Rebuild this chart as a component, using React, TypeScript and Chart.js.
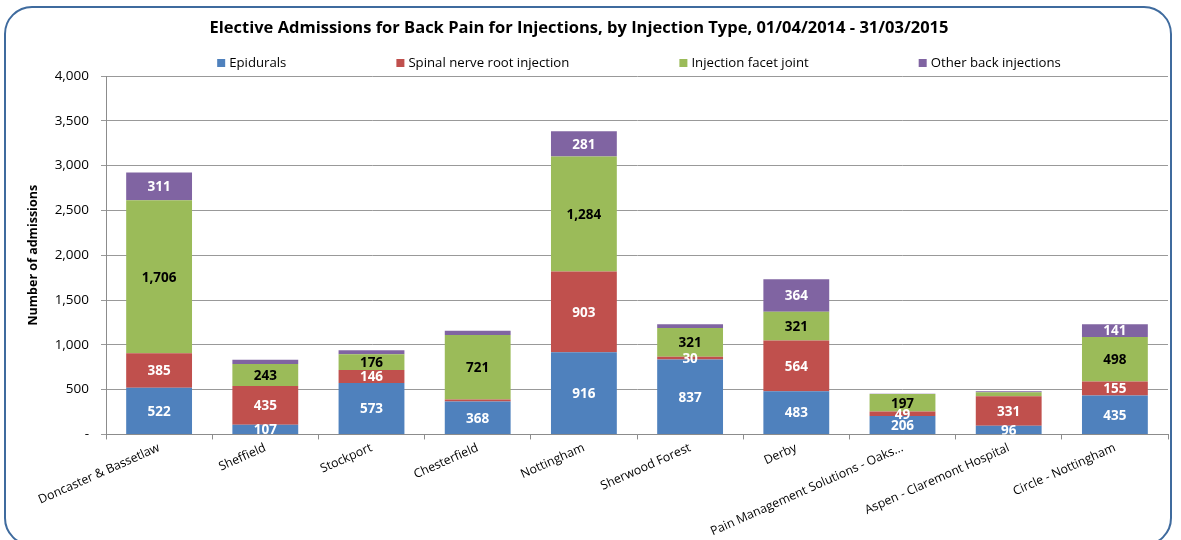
import { useEffect, useRef } from "react";
import { Chart, registerables } from "chart.js";

Chart.register(...registerables);

const categories = [
  "Doncaster & Bassetlaw",
  "Sheffield",
  "Stockport",
  "Chesterfield",
  "Nottingham",
  "Sherwood Forest",
  "Derby",
  "Pain Management Solutions - Oaks...",
  "Aspen - Claremont Hospital",
  "Circle - Nottingham",
];

const seriesNames = [
  "Epidurals",
  "Spinal nerve root injection",
  "Injection facet joint",
  "Other back injections",
];

const epidurals = [522, 107, 573, 368, 916, 837, 483, 206, 96, 435];
const spinalNerveRoot = [385, 435, 146, 22, 903, 30, 564, 49, 331, 155];
const facetJoint = [1706, 243, 176, 721, 1284, 321, 321, 197, 45, 498];
const otherBack = [311, 48, 45, 45, 281, 41, 364, 3, 11, 141];

// which segments carry a value label in the original
const epiduralsLabelled = [true, true, true, true, true, true, true, true, true, true];
const spinalLabelled = [true, true, true, false, true, true, true, true, true, true];
const facetLabelled = [true, true, true, true, true, true, true, true, false, true];
const otherLabelled = [true, false, false, false, true, false, true, false, false, true];

const yMin = 0;
const yMax = 4000;
const yStep = 500;

const seriesColors = ["#4F81BD", "#C0504D", "#9BBB59", "#8064A2"];
const labelColors = ["#FFFFFF", "#FFFFFF", "#000000", "#FFFFFF"];
const labelMasks = [epiduralsLabelled, spinalLabelled, facetLabelled, otherLabelled];

const FONT = "'Open Sans', 'Noto Sans', sans-serif";

const valueLabelPlugin = {
  id: "valueLabels",
  afterDatasetsDraw(chart: any) {
    const ctx = chart.ctx;
    const area = chart.chartArea;
    ctx.save();
    ctx.beginPath();
    ctx.rect(area.left, area.top, area.right - area.left, area.bottom - area.top);
    ctx.clip();
    ctx.font = `bold 13.5px ${FONT}`;
    ctx.textAlign = "center";
    ctx.textBaseline = "middle";
    chart.data.datasets.forEach((ds: any, di: number) => {
      const meta = chart.getDatasetMeta(di);
      const mask = labelMasks[di];
      meta.data.forEach((el: any, i: number) => {
        if (!mask[i]) return;
        const { x, y, base } = el.getProps(["x", "y", "base"], true);
        ctx.fillStyle = labelColors[di];
        ctx.fillText(Number(ds.data[i]).toLocaleString("en-US"), x, (y + base) / 2 + 1);
      });
    });
    ctx.restore();
  },
};

const legendPlugin = {
  id: "customLegend",
  afterDraw(chart: any) {
    const ctx = chart.ctx;
    const area = chart.chartArea;
    ctx.save();
    ctx.font = `13.2px ${FONT}`;
    ctx.textBaseline = "middle";
    ctx.textAlign = "left";
    const box = 8;
    const textGap = 4;
    const itemGap = 110;
    const widths = chart.data.datasets.map(
      (ds: any) => box + textGap + ctx.measureText(ds.label).width
    );
    const total = widths.reduce((a: number, b: number) => a + b, 0) + itemGap * (widths.length - 1);
    let x = (area.left + area.right) / 2 + 2 - total / 2;
    const y = area.top - 13;
    chart.data.datasets.forEach((ds: any, i: number) => {
      ctx.fillStyle = ds.backgroundColor;
      ctx.fillRect(x, y - box / 2, box, box);
      ctx.fillStyle = "#000";
      ctx.fillText(ds.label, x + box + textGap, y);
      x += widths[i] + itemGap;
    });
    ctx.restore();
  },
};

const titleShiftPlugin = {
  id: "titleShift",
  afterLayout(chart: any) {
    const t = chart.titleBlock;
    if (t) {
      t.left -= 15;
      t.right -= 15;
    }
  },
};

export default function App() {
  const canvasRef = useRef<HTMLCanvasElement | null>(null);

  useEffect(() => {
    if (!canvasRef.current) return;
    Chart.defaults.font.family = FONT;
    const seriesData = [epidurals, spinalNerveRoot, facetJoint, otherBack];
    const chart = new Chart(canvasRef.current, {
      type: "bar",
      data: {
        labels: categories,
        datasets: seriesNames.map((name, i) => ({
          label: name,
          data: seriesData[i],
          backgroundColor: seriesColors[i],
          borderWidth: 0,
          barPercentage: 0.62,
          categoryPercentage: 1,
        })),
      },
      options: {
        responsive: false,
        animation: false,
        layout: { padding: { left: 20, right: 13, top: 0, bottom: 0 } },
        plugins: {
          legend: { display: false },
          tooltip: { enabled: false },
          title: {
            display: true,
            text: "Elective Admissions for Back Pain for Injections, by Injection Type, 01/04/2014 - 31/03/2015",
            color: "#000",
            font: { family: FONT, size: 16.5, weight: "bold" },
            padding: { top: 18, bottom: 38.2 },
          },
        },
        scales: {
          x: {
            stacked: true,
            grid: {
              offset: true,
              drawOnChartArea: false,
              drawTicks: true,
              tickLength: 5,
              color: "#8C8C8C",
            },
            border: { display: true, color: "#8C8C8C" },
            ticks: {
              color: "#000",
              font: { family: FONT, size: 12.3 },
              minRotation: 24,
              maxRotation: 24,
              autoSkip: false,
              padding: 1,
            },
          },
          y: {
            stacked: true,
            min: yMin,
            max: yMax,
            afterFit: (scale: any) => {
              scale.width = 86;
            },
            ticks: {
              stepSize: yStep,
              color: "#000",
              font: { family: FONT, size: 13.5 },
              padding: 12,
              callback: (v: any) => (Number(v) === 0 ? "-" : Number(v).toLocaleString("en-US")),
            },
            grid: { color: "#999999", tickLength: 5 },
            border: { display: true, color: "#8C8C8C" },
            title: {
              display: true,
              text: "Number of admissions",
              color: "#000",
              font: { family: FONT, size: 12.5, weight: "bold" },
              padding: { top: 6, bottom: 0 },
            },
          },
        },
      },
      plugins: [valueLabelPlugin, legendPlugin, titleShiftPlugin],
    });
    return () => chart.destroy();
  }, []);

  return (
    <div
      style={{
        position: "fixed",
        left: 0,
        top: 0,
        width: 1181,
        height: 540,
        overflow: "hidden",
        background: "#fff",
      }}
    >
      <div
        style={{
          position: "absolute",
          left: 4,
          top: 6,
          width: 1168,
          height: 540,
          border: "2px solid #3F6B9E",
          borderRadius: 28,
          boxSizing: "border-box",
        }}
      />
      <canvas
        ref={canvasRef}
        width={1181}
        height={540}
        style={{ position: "absolute", left: 0, top: 0, width: 1181, height: 540 }}
      />
    </div>
  );
}
